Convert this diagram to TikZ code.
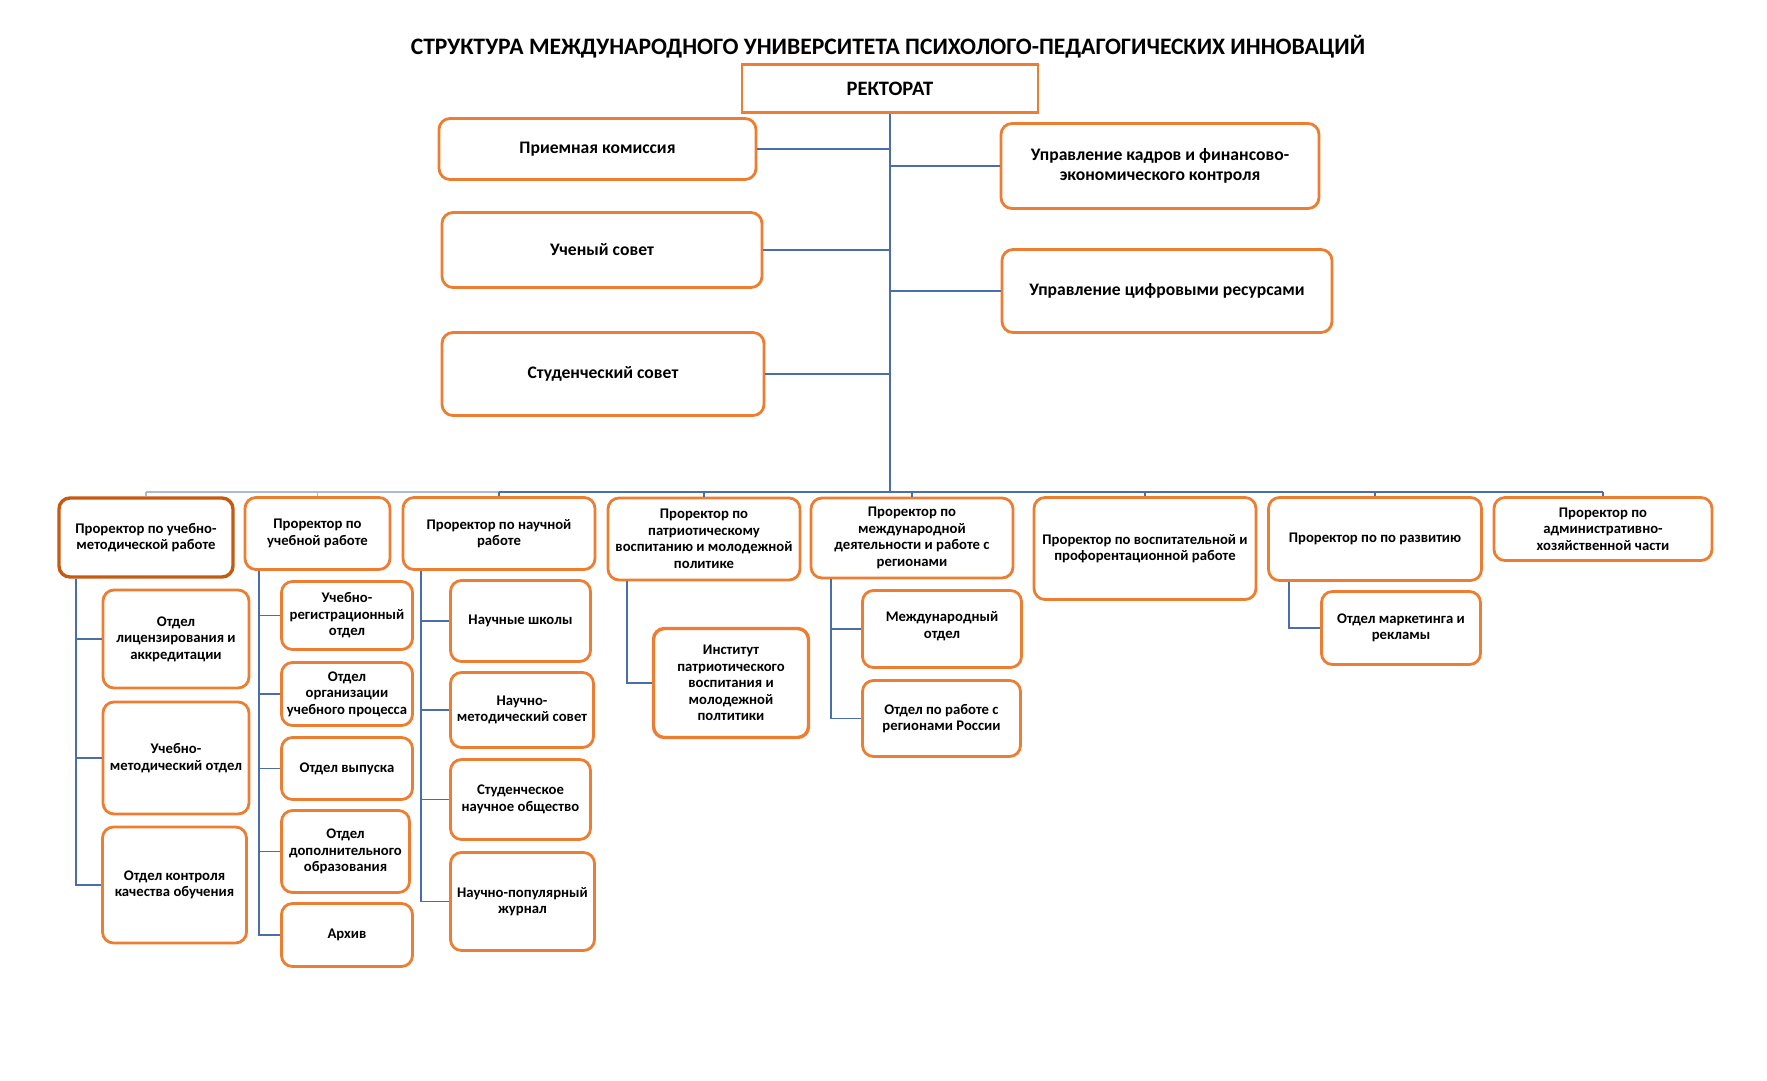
\documentclass[tikz,border=0pt]{standalone}
\usepackage{fontspec}
\setmainfont{Carlito}
\definecolor{orng}{HTML}{ED7D31}
\definecolor{dorng}{HTML}{C55A11}
\definecolor{lnblue}{HTML}{4A6EA9}
\definecolor{lnlight}{HTML}{A9BAD6}
\newcommand\vpf{\fontsize{14.7}{16.5}\selectfont\bfseries}
\newcommand\topf{\fontsize{17.6}{19.5}\selectfont\bfseries}
\tikzset{
  box/.style={draw=orng, line width=2.8pt, rounded corners=11pt, fill=white, align=center, inner sep=0pt, font=\vpf},
  topbox/.style={box, font=\topf},
  conn/.style={draw=lnblue, line width=1.4pt},
  connl/.style={draw=lnlight, line width=1.4pt},
}
\begin{document}
\begin{tikzpicture}[x=1pt,y=-1pt]
\useasboundingbox[fill=white] (0,0) rectangle (1767,1080);

\node[font=\fontsize{23.6}{26}\selectfont\bfseries] (title) at (888,47) {СТРУКТУРА МЕЖДУНАРОДНОГО УНИВЕРСИТЕТА ПСИХОЛОГО-ПЕДАГОГИЧЕСКИХ ИННОВАЦИЙ};

% top level
\node[topbox, rounded corners=0pt, minimum width=296pt, minimum height=48pt, font=\fontsize{20.5}{22}\selectfont\bfseries] (rect) at (890,88.5) {РЕКТОРАТ};
\node[topbox, minimum width=317pt, minimum height=61pt] (pk) at (597.5,149) {Приемная комиссия};
\node[topbox, minimum width=320pt, minimum height=75pt] (us) at (602,250) {Ученый совет};
\node[topbox, minimum width=322pt, minimum height=83pt] (ss) at (603,374) {Студенческий совет};
\node[topbox, minimum width=318pt, minimum height=85pt] (uk) at (1160,166) {Управление кадров и финансово-\\экономического контроля};
\node[topbox, minimum width=330pt, minimum height=83pt] (uc) at (1167,291) {Управление цифровыми ресурсами};

\coordinate (trunk) at (890,0);
\coordinate (bus) at (890,492);

% vice-rectors
\node[box, draw=dorng, line width=3.4pt, minimum width=174pt, minimum height=79pt] (v1) at (146,537.5) {Проректор по учебно-\\методической работе};
\node[box, minimum width=145pt, minimum height=72pt] (v2) at (317.5,533.5) {Проректор по\\учебной работе};
\node[box, minimum width=192pt, minimum height=72pt] (v3) at (499,533.5) {Проректор по научной\\работе};
\node[box, minimum width=192pt, minimum height=82pt] (v4) at (704,539) {Проректор по\\патриотическому\\воспитанию и молодежной\\политике};
\node[box, minimum width=202pt, minimum height=80pt] (v5) at (912,538) {Проректор по\\международной\\деятельности и работе с\\регионами};
\node[box, minimum width=222pt, minimum height=102pt] (v6) at (1145,548.5) {Проректор по воспитательной и\\профорентационной работе};
\node[box, minimum width=213pt, minimum height=83pt] (v7) at (1375,539) {Проректор по по развитию};
\node[box, minimum width=218pt, minimum height=63pt] (v8) at (1603,529) {Проректор по\\административно-\\хозяйственной части};

% children of v1
\node[box, minimum width=146pt, minimum height=98pt] (c11) at (176,639) {Отдел\\лицензирования и\\аккредитации};
\node[box, minimum width=146pt, minimum height=112pt] (c12) at (176,758) {Учебно-\\методический отдел};
\node[box, minimum width=144pt, minimum height=116pt] (c13) at (174.5,885) {Отдел контроля\\качества обучения};
% children of v2
\node[box, minimum width=131pt, minimum height=68pt] (c21) at (347,615.5) {Учебно-\\регистрационный\\отдел};
\node[box, minimum width=131pt, minimum height=63pt] (c22) at (347,694) {Отдел\\организации\\учебного процесса};
\node[box, minimum width=131pt, minimum height=62pt] (c23) at (347,768.5) {Отдел выпуска};
\node[box, minimum width=128pt, minimum height=82pt] (c24) at (345.5,851.5) {Отдел\\дополнительного\\образования};
\node[box, minimum width=131pt, minimum height=63pt] (c25) at (347,935) {Архив};
% children of v3
\node[box, minimum width=140pt, minimum height=81pt] (c31) at (520.5,621) {Научные школы};
\node[box, minimum width=143pt, minimum height=75pt] (c32) at (522,710) {Научно-\\методический совет};
\node[box, minimum width=140pt, minimum height=80pt] (c33) at (520.5,799.5) {Студенческое\\научное общество};
\node[box, minimum width=144pt, minimum height=98pt] (c34) at (522.5,901.5) {Научно-популярный\\журнал};
% child of v4
\node[box, line width=3.4pt, minimum width=155pt, minimum height=109pt] (c41) at (731,683) {Институт\\патриотического\\воспитания и\\молодежной\\полтитики};
% children of v5
\node[box, minimum width=159pt, minimum height=77pt] (c51) at (942,629) {Международный\\отдел\\[-8pt]\mbox{}};
\node[box, minimum width=158pt, minimum height=76pt] (c52) at (941.5,718.5) {Отдел по работе с\\регионами России};
% child of v7
\node[box, minimum width=159pt, minimum height=73pt] (c71) at (1401,628) {Отдел маркетинга и\\рекламы};

% connectors: top
\draw[conn] (rect.south) -- (bus);
\foreach \n in {pk,us,ss} \draw[conn] (\n.east) -- (\n.east -| trunk);
\foreach \n in {uk,uc} \draw[conn] (\n.west -| trunk) -- (\n.west);

% bus
\draw[connl] (v1.north |- bus) -- (v3.north |- bus);
\draw[conn] (v3.north |- bus) -- (v8.north |- bus);
\foreach \n in {v1,v2} \draw[connl] (\n.north |- bus) -- (\n.north);
\foreach \n in {v3,v4,v5,v6,v7,v8} \draw[conn] (\n.north |- bus) -- (\n.north);

% trunks
\coordinate (t1) at (76,0);
\coordinate (t2) at (259,0);
\coordinate (t3) at (421,0);
\coordinate (t4) at (627,0);
\coordinate (t5) at (831,0);
\coordinate (t7) at (1289,0);

\draw[conn] (v1.south -| t1) -- (c13.west -| t1) -- (c13.west);
\foreach \n in {c11,c12} \draw[conn] (\n.west -| t1) -- (\n.west);
\draw[conn] (v2.south -| t2) -- (c25.west -| t2) -- (c25.west);
\foreach \n in {c21,c22,c23,c24} \draw[conn] (\n.west -| t2) -- (\n.west);
\draw[conn] (v3.south -| t3) -- (c34.west -| t3) -- (c34.west);
\foreach \n in {c31,c32,c33} \draw[conn] (\n.west -| t3) -- (\n.west);
\draw[conn] (v4.south -| t4) -- (c41.west -| t4) -- (c41.west);
\draw[conn] (v5.south -| t5) -- (c52.west -| t5) -- (c52.west);
\draw[conn] (c51.west -| t5) -- (c51.west);
\draw[conn] (v7.south -| t7) -- (c71.west -| t7) -- (c71.west);
\end{tikzpicture}
\end{document}
